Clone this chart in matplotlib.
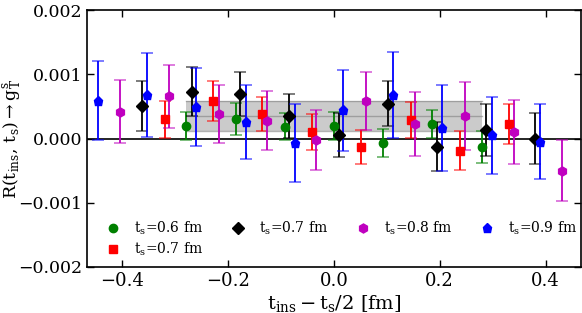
import numpy as np
import matplotlib
matplotlib.use("Agg")
import matplotlib.pyplot as plt
from matplotlib.ticker import FuncFormatter
from matplotlib.lines import Line2D

plt.rcParams['font.family'] = ['DejaVu Serif']
plt.rcParams['mathtext.fontset'] = 'dejavuserif'

# t_s = 0.6 fm (green circles)
x_g = [-0.279, -0.186, -0.093, 0.000, 0.093, 0.186, 0.279]
y_g = [0.00019, 0.00031, 0.00018, 0.00020, -0.00007, 0.00023, -0.00013]
e_g = [0.00022, 0.00025, 0.00021, 0.00022, 0.00022, 0.00022, 0.00025]

# t_s = 0.7 fm (red squares)
x_r = [-0.320, -0.228, -0.135, -0.042, 0.051, 0.145, 0.238, 0.330]
y_r = [0.00030, 0.00058, 0.00038, 0.00010, -0.00013, 0.00029, -0.00019, 0.00023]
e_r = [0.00029, 0.00031, 0.00026, 0.00028, 0.00027, 0.00028, 0.00030, 0.00031]

# t_s = 0.7 fm (black diamonds)
x_k = [-0.363, -0.269, -0.177, -0.084, 0.009, 0.102, 0.195, 0.288, 0.381]
y_k = [0.00050, 0.00073, 0.00069, 0.00035, 0.00005, 0.00054, -0.00013, 0.00013, 0.00000]
e_k = [0.00039, 0.00038, 0.00034, 0.00034, 0.00034, 0.00035, 0.00038, 0.00041, 0.00040]

# t_s = 0.8 fm (magenta)
x_m = [-0.405, -0.312, -0.218, -0.126, -0.033, 0.061, 0.154, 0.247, 0.340, 0.432]
y_m = [0.00042, 0.00066, 0.00038, 0.00028, -0.00002, 0.00059, 0.00023, 0.00035, 0.00010, -0.00050]
e_m = [0.00049, 0.00049, 0.00045, 0.00046, 0.00047, 0.00045, 0.00050, 0.00053, 0.00050, 0.00048]

# t_s = 0.9 fm (blue pentagons)
x_b = [-0.446, -0.353, -0.260, -0.167, -0.074, 0.018, 0.112, 0.205, 0.298, 0.390]
y_b = [0.00059, 0.00068, 0.00049, 0.00026, -0.00007, 0.00044, 0.00068, 0.00016, 0.00005, -0.00005]
e_b = [0.00062, 0.00065, 0.00060, 0.00058, 0.00060, 0.00063, 0.00067, 0.00067, 0.00060, 0.00058]

# fit band
band_x = [-0.28, 0.28]
band_c = 0.00035
band_e = 0.00023

fig = plt.figure(figsize=(5.82, 3.13), dpi=100)
ax = fig.add_axes([0.1495, 0.147, 0.8485, 0.821])

ax.fill_between(band_x, band_c - band_e, band_c + band_e, color='0.6', alpha=0.5, lw=0, zorder=1)
for yy in [band_c - band_e, band_c, band_c + band_e]:
    ax.plot(band_x, [yy, yy], color='0.5', alpha=0.6, lw=1, zorder=1)

ax.axhline(0, color='k', lw=1.2, zorder=2)

series = [
    (x_g, y_g, e_g, 'g', 'o', 6, r'$\mathrm{t_s}$=0.6 fm'),
    (x_r, y_r, e_r, 'r', 's', 6, r'$\mathrm{t_s}$=0.7 fm'),
    (x_k, y_k, e_k, 'k', 'D', 6, r'$\mathrm{t_s}$=0.7 fm'),
    (x_m, y_m, e_m, 'm', 'h', 6.5, r'$\mathrm{t_s}$=0.8 fm'),
    (x_b, y_b, e_b, 'b', 'p', 6.5, r'$\mathrm{t_s}$=0.9 fm'),
]
handles = []
for xs, ys, es, c, mk, ms, lab in series:
    eb = ax.errorbar(xs, ys, yerr=es, fmt=mk, color=c, ms=ms, mec=c,
                     elinewidth=1.3, capsize=4.5, capthick=1.2, zorder=3)
    for cl in eb[1]:
        cl.set_alpha(0.6)
    handles.append(Line2D([], [], ls='none', marker=mk, color=c, mec=c, ms=ms, label=lab))

ax.set_xlim(-0.4667, 0.4667)
ax.set_ylim(-0.002, 0.002)
ax.set_xticks([-0.4, -0.2, 0.0, 0.2, 0.4])
ax.set_yticks([-0.002, -0.001, 0.0, 0.001, 0.002])
ax.xaxis.set_major_formatter(FuncFormatter(lambda v, p: ('%.1f' % v).replace('-', '\u2212')))
ax.yaxis.set_major_formatter(FuncFormatter(lambda v, p: ('%.3f' % v).replace('-', '\u2212')))
ax.tick_params(direction='in', top=True, right=True, length=5, width=1, labelsize=13)
ax.tick_params(axis='y', labelsize=12.5)
for s in ax.spines.values():
    s.set_linewidth(1.2)

ax.set_xlabel(r'$\mathrm{t_{ins}} - \mathrm{t_s}/2$ [fm]', fontsize=14, labelpad=2)
ax.set_ylabel(r'$\mathrm{R(t_{ins},\,t_s)} \rightarrow \mathrm{g_T^s}$', fontsize=12.5)

# y label anchored at its right side; keep its left edge inside the figure
fig.canvas.draw()
bb = ax.yaxis.label.get_window_extent()
right_px = min(2 + bb.width, 31)
ax.yaxis.set_label_coords(-(87 - right_px) / 494.0, 0.5)

ax.legend(handles=handles, loc='lower left', ncol=4, frameon=False, fontsize=10,
          numpoints=1, handlelength=1.0, handletextpad=1.0, columnspacing=2.0,
          labelspacing=0.3, borderaxespad=0.0, bbox_to_anchor=(0.028, 0.012))

fig.savefig('out.png', dpi=100)
